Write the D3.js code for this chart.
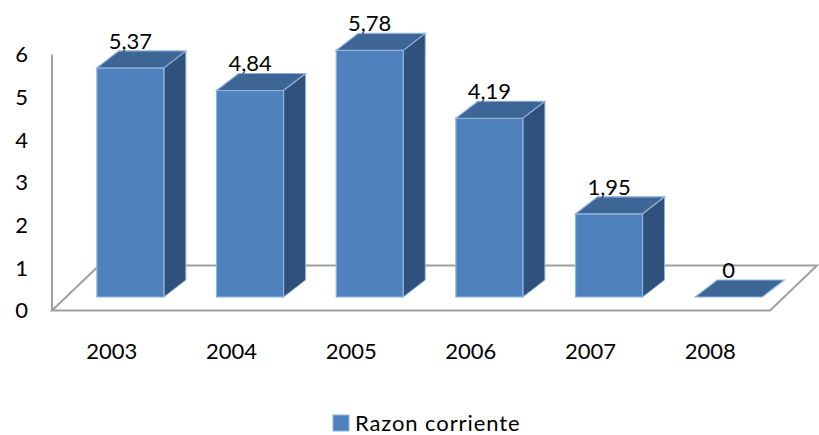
<!DOCTYPE html>
<html>
<head>
<meta charset="utf-8">
<script src="https://cdn.jsdelivr.net/npm/d3@7/dist/d3.min.js"></script>
<style>
  html, body { margin: 0; padding: 0; background: #fff; }
  svg text { font-family: Lato, "Open Sans", sans-serif; fill: #000; }
</style>
</head>
<body>
<div id="chart"></div>
<script>
// data
var years  = ['2003', '2004', '2005', '2006', '2007', '2008'];
var values = [5.37, 4.84, 5.78, 4.19, 1.95, 0];
var yTicks = [0, 1, 2, 3, 4, 5, 6];
var seriesName = 'Razon corriente';

var width = 819, height = 435;

// front plane of the 3D box
var plot = { left: 52, right: 770, top: 54.5, bottom: 310.5 };
var floorDepth = { dx: 47, dy: -45 };   // front -> back of the floor
var barOffset  = { dx: 0, dy: -13.5 };   // front face of bars sits a bit inside
var barDepth   = { dx: 22, dy: -17 };    // thickness of each bar

var colors = {
    front: '#4f81bd',
    top:   '#3d6595',
    side:  '#30517b',
    edge:  '#8fb4e0',
    grid:  '#a0a0a0'
};

var svg = d3.select('#chart').append('svg')
    .attr('width', width).attr('height', height);

var x = d3.scaleBand().domain(years).range([plot.left, plot.right]).padding(0);
var y = d3.scaleLinear().domain([0, 6]).range([plot.bottom, plot.top]);

// floor + left axis line
var fl = plot.left, fr = plot.right, fb = plot.bottom;
var floorPts = [
    [fl, fb], [fr, fb],
    [fr + floorDepth.dx, fb + floorDepth.dy],
    [fl + floorDepth.dx, fb + floorDepth.dy]
];
svg.append('polygon')
    .attr('points', floorPts.map(function (p) { return p.join(','); }).join(' '))
    .attr('fill', 'none')
    .attr('stroke', colors.grid)
    .attr('stroke-width', 2);

svg.append('line')
    .attr('x1', fl).attr('x2', fl)
    .attr('y1', y(6)).attr('y2', fb)
    .attr('stroke', colors.grid)
    .attr('stroke-width', 2);

// y tick labels
svg.append('g').selectAll('text')
    .data(yTicks).enter().append('text')
    .attr('x', 28)
    .attr('y', function (d) { return y(d); })
    .attr('dy', '0.36em')
    .attr('text-anchor', 'end')
    .attr('font-size', 22)
    .text(function (d) { return d; });

// bars
var bw = x.bandwidth();
var bars = svg.append('g').selectAll('g')
    .data(years.map(function (yr, i) { return { year: yr, value: values[i] }; }))
    .enter().append('g');

function pts(a) { return a.map(function (p) { return p[0] + ',' + p[1]; }).join(' '); }

bars.each(function (d) {
    var g = d3.select(this);
    var x0 = x(d.year) + bw * 0.375 + barOffset.dx;
    var x1 = x0 + bw * 0.56;
    var yb = y(0) + barOffset.dy;
    var yt = y(d.value) + barOffset.dy;
    var dx = barDepth.dx, dy = barDepth.dy;

    if (d.value > 0) {
        g.append('polygon')
            .attr('points', pts([[x1, yt], [x1 + dx, yt + dy], [x1 + dx, yb + dy], [x1, yb]]))
            .attr('fill', colors.side).attr('stroke', colors.edge).attr('stroke-width', 1);
        g.append('rect')
            .attr('x', x0).attr('y', yt)
            .attr('width', x1 - x0).attr('height', yb - yt)
            .attr('fill', colors.front).attr('stroke', colors.edge).attr('stroke-width', 1.2);
    }
    g.append('polygon')
        .attr('points', pts([[x0, yt], [x1, yt], [x1 + dx, yt + dy], [x0 + dx, yt + dy]]))
        .attr('fill', colors.top).attr('stroke', colors.edge).attr('stroke-width', 1.2);

    g.append('text')
        .attr('x', (x0 + x1) / 2)
        .attr('y', yt + dy - 2)
        .attr('text-anchor', 'middle')
        .attr('font-size', 22)
        .text(d.value === 0 ? '0' : d3.format('.2f')(d.value).replace('.', ','));
});

// category labels
svg.append('g').selectAll('text')
    .data(years).enter().append('text')
    .attr('x', function (d) { return x(d) + bw / 2; })
    .attr('y', 359)
    .attr('text-anchor', 'middle')
    .attr('font-size', 22)
    .text(function (d) { return d; });

// legend
var lg = svg.append('g').attr('transform', 'translate(333,415)');
lg.append('rect')
    .attr('width', 16).attr('height', 16)
    .attr('fill', colors.front).attr('stroke', colors.edge).attr('stroke-width', 1);
lg.append('text')
    .attr('x', 22).attr('y', 16)
    .attr('font-size', 22)
    .attr('letter-spacing', 0.9)
    .text(seriesName);
</script>
</body>
</html>
